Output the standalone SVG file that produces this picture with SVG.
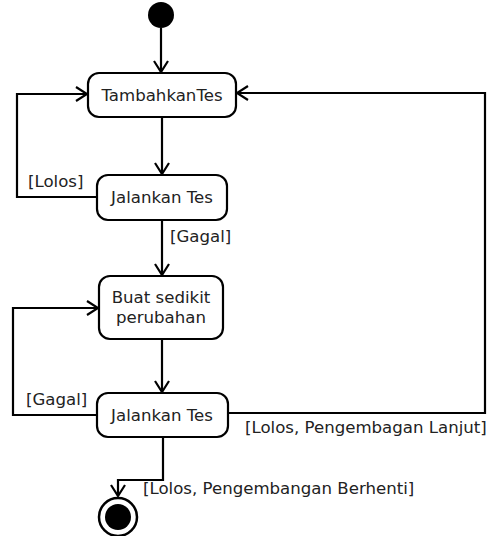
<svg xmlns="http://www.w3.org/2000/svg" width="493" height="536" viewBox="0 0 493 536">
<style>
.node{fill:#fff;stroke:#000;stroke-width:2.2}
.t{font-family:"DejaVu Sans",sans-serif;font-size:16.6px;fill:#222}
.c{text-anchor:middle}
.edge{fill:none;stroke:#000;stroke-width:2.2}
</style>
<defs>
<marker id="arr" markerWidth="14" markerHeight="16" refX="12" refY="8" orient="auto" markerUnits="userSpaceOnUse">
<path d="M1,1 L12,8 L1,15" fill="none" stroke="#000" stroke-width="2.2"/>
</marker>
</defs>
<rect width="493" height="536" fill="#fff"/>
<g id="connectors">
<path class="edge" d="M161,28 V72" marker-end="url(#arr)"/>
<path class="edge" d="M162,117 V174" marker-end="url(#arr)"/>
<path class="edge" d="M97,197 H17 V94 H87" marker-end="url(#arr)"/>
<path class="edge" d="M162,220 V275" marker-end="url(#arr)"/>
<path class="edge" d="M162,339 V392" marker-end="url(#arr)"/>
<path class="edge" d="M97,415 H13 V308 H98" marker-end="url(#arr)"/>
<path class="edge" d="M228,413 H485 V93 H237" marker-end="url(#arr)"/>
<path class="edge" d="M163,437 V480 H118 V496" marker-end="url(#arr)"/>
</g>
<g id="start"><circle cx="161" cy="15" r="13" fill="#000"/></g>
<g id="tambahkan"><rect class="node" x="88" y="73" width="148" height="44" rx="11"/><text class="t c" x="162" y="101">TambahkanTes</text></g>
<g id="jalankan1"><rect class="node" x="97" y="175" width="130" height="45" rx="11"/><text class="t c" x="162" y="203">Jalankan Tes</text></g>
<g id="buat"><rect class="node" x="99" y="276" width="124" height="63" rx="11"/><text class="t c" x="161" y="303">Buat sedikit</text><text class="t c" x="161" y="323">perubahan</text></g>
<g id="jalankan2"><rect class="node" x="97" y="393" width="131" height="44" rx="11"/><text class="t c" x="162" y="421">Jalankan Tes</text></g>
<g id="end"><circle cx="118" cy="517" r="19" fill="#fff" stroke="#000" stroke-width="2.5"/><circle cx="118" cy="517" r="13" fill="#000"/></g>
<g id="labels">
<text class="t" x="28" y="187">[Lolos]</text>
<text class="t" x="170" y="242">[Gagal]</text>
<text class="t" x="26" y="405">[Gagal]</text>
<text class="t" x="245" y="433">[Lolos, Pengembagan Lanjut]</text>
<text class="t" x="143" y="494">[Lolos, Pengembangan Berhenti]</text>
</g>
</svg>
